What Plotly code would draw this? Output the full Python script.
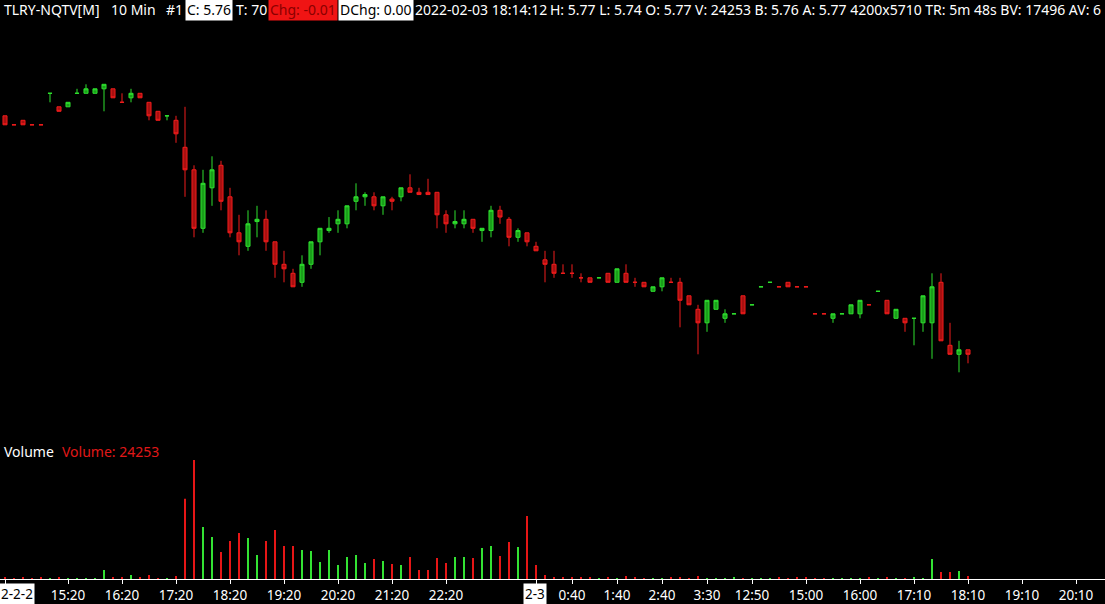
import plotly.graph_objects as go

W, H = 1105, 604
FONT = "Noto Sans"

# ---------------- data (bar index 0 = 2022-02-02 14:10, 10-minute bars) ----------------
opens = [6.29, 6.27, 6.28, 6.27, 6.27, 6.34, 6.31, 6.31, 6.34, 6.34,
         6.34, 6.35, 6.35, 6.32, 6.33, 6.34, 6.32, 6.30, 6.29, 6.28,
         6.22, 6.17, 6.04, 6.13, 6.18, 6.11, 6.03, 6.00, 6.055, 6.06,
         6.01, 5.96, 5.94, 5.92, 5.96, 6.01, 6.035, 6.05, 6.05, 6.10,
         6.11, 6.11, 6.09, 6.105, 6.11, 6.13, 6.12, 6.12, 6.12, 6.07,
         6.05, 6.05, 6.06, 6.035, 6.035, 6.08, 6.06, 6.02, 6.03, 6.00,
         5.97, 5.96, 5.94, 5.94, 5.93, 5.93, 5.93, 5.94, 5.92, 5.94,
         5.92, 5.92, 5.90, 5.91, 5.92, 5.92, 5.89, 5.86, 5.83, 5.86,
         5.84, 5.85, 5.89, 5.87, 5.91, 5.92, 5.91, 5.92, 5.91, 5.91,
         5.85, 5.85, 5.84, 5.85, 5.85, 5.85, 5.87, 5.90, 5.88, 5.84,
         5.84, 5.84, 5.83, 5.83, 5.92, 5.78, 5.76, 5.77]
highs = [6.29, 6.27, 6.28, 6.27, 6.27, 6.34, 6.31, 6.32, 6.35, 6.36,
         6.35, 6.36, 6.35, 6.34, 6.35, 6.34, 6.32, 6.30, 6.29, 6.29,
         6.31, 6.18, 6.17, 6.20, 6.19, 6.13, 6.07, 6.08, 6.09, 6.08,
         6.01, 5.99, 5.95, 5.98, 6.01, 6.04, 6.065, 6.08, 6.09, 6.14,
         6.12, 6.12, 6.11, 6.11, 6.13, 6.16, 6.13, 6.15, 6.12, 6.08,
         6.08, 6.08, 6.06, 6.04, 6.09, 6.09, 6.065, 6.04, 6.03, 6.01,
         5.99, 5.99, 5.96, 5.96, 5.94, 5.93, 5.93, 5.94, 5.95, 5.96,
         5.93, 5.92, 5.91, 5.93, 5.93, 5.93, 5.89, 5.87, 5.88, 5.88,
         5.86, 5.85, 5.89, 5.87, 5.91, 5.92, 5.91, 5.92, 5.91, 5.91,
         5.85, 5.85, 5.85, 5.85, 5.87, 5.88, 5.87, 5.90, 5.88, 5.86,
         5.84, 5.84, 5.89, 5.94, 5.94, 5.83, 5.79, 5.77]
lows = [6.27, 6.27, 6.27, 6.27, 6.27, 6.32, 6.30, 6.31, 6.34, 6.34,
        6.34, 6.30, 6.33, 6.32, 6.32, 6.33, 6.28, 6.28, 6.28, 6.23,
        6.11, 6.02, 6.03, 6.09, 6.08, 6.02, 5.98, 5.99, 6.02, 5.99,
        5.93, 5.92, 5.91, 5.91, 5.95, 5.98, 6.03, 6.03, 6.04, 6.08,
        6.09, 6.08, 6.07, 6.08, 6.10, 6.12, 6.115, 6.115, 6.04, 6.03,
        6.04, 6.04, 6.03, 6.01, 6.02, 6.05, 6.00, 6.01, 6.00, 5.99,
        5.92, 5.93, 5.94, 5.93, 5.92, 5.92, 5.93, 5.92, 5.92, 5.92,
        5.91, 5.91, 5.90, 5.90, 5.92, 5.82, 5.87, 5.76, 5.81, 5.86,
        5.83, 5.85, 5.85, 5.87, 5.91, 5.92, 5.91, 5.91, 5.91, 5.91,
        5.85, 5.85, 5.83, 5.85, 5.85, 5.84, 5.87, 5.90, 5.85, 5.84,
        5.81, 5.78, 5.81, 5.75, 5.79, 5.76, 5.72, 5.74]
closes = [6.27, 6.27, 6.27, 6.27, 6.27, 6.34, 6.30, 6.32, 6.34, 6.35,
          6.35, 6.36, 6.33, 6.32, 6.34, 6.33, 6.29, 6.28, 6.29, 6.25,
          6.17, 6.04, 6.14, 6.17, 6.10, 6.03, 6.01, 6.05, 6.06, 6.01,
          5.96, 5.95, 5.91, 5.96, 6.01, 6.04, 6.04, 6.06, 6.09, 6.11,
          6.115, 6.09, 6.11, 6.10, 6.13, 6.12, 6.115, 6.115, 6.07, 6.05,
          6.055, 6.06, 6.04, 6.04, 6.08, 6.065, 6.02, 6.035, 6.01, 5.99,
          5.96, 5.94, 5.94, 5.94, 5.93, 5.92, 5.93, 5.92, 5.95, 5.92,
          5.92, 5.91, 5.91, 5.93, 5.92, 5.88, 5.87, 5.83, 5.88, 5.88,
          5.85, 5.85, 5.85, 5.87, 5.91, 5.92, 5.91, 5.91, 5.91, 5.91,
          5.85, 5.85, 5.85, 5.85, 5.87, 5.88, 5.87, 5.90, 5.85, 5.86,
          5.83, 5.84, 5.89, 5.91, 5.79, 5.76, 5.77, 5.76]
volumes = [8100, 7900, 8300, 7700, 8200, 6100, 8400, 5900, 6200, 6000,
           6300, 72400, 16200, 15800, 32500, 16100, 31800, 6400, 5800, 24600,
           641000, 952300, 416800, 335200, 216400, 304100, 368500, 327900, 192300, 304600,
           392100, 263800, 264500, 232400, 224100, 136200, 231900, 112600, 176300, 191800,
           128400, 160200, 143900, 120300, 112500, 176100, 72300, 71800, 168400, 128200,
           176500, 175900, 168300, 248100, 263900, 184200, 296300, 255800, 504100, 112300,
           32100, 16300, 15900, 16200, 15800, 8100, 6200, 16400, 5800, 24300,
           8200, 7800, 6100, 5900, 8300, 16100, 7900, 24500, 6000, 6300,
           5900, 8100, 7800, 6200, 5800, 6100, 8200, 7900, 8100, 8300,
           7700, 8000, 6100, 5900, 6200, 6000, 8100, 7900, 8200, 8000,
           7800, 16200, 5900, 160400, 56300, 55800, 64200, 24253]
bar_idx = list(range(len(closes)))

tick_idx = [0, 7, 13, 19, 25, 31, 37, 43, 49, 59, 63, 68, 73, 78, 83,
            89, 95, 101, 107, 113, 119]
tick_text = ["", "15:20", "16:20", "17:20", "18:20", "19:20", "20:20", "21:20",
             "22:20", "", "0:40", "1:40", "2:40", "3:30", "12:50",
             "15:00", "16:00", "17:10", "18:10", "19:10", "20:10"]
date_labels = ["2-2-2", "2-3"]

# ---------------- colours ----------------
UP_LINE, UP_FILL = "#2fe02f", "#1a9e1a"
DN_LINE, DN_FILL = "#f01c1c", "#a81010"
UP_VOL, DN_VOL = "#33e233", "#e61616"

# candle direction (same rule as plotly: doji compares with previous close)
dirs = []
prev_c, inc = None, True
for o, c in zip(opens, closes):
    if c != o:
        inc = c > o
    elif prev_c is not None and c != prev_c:
        inc = c > prev_c
    dirs.append(inc)
    prev_c = c
vol_colors = [UP_VOL if d else DN_VOL for d in dirs]

fig = go.Figure()
fig.add_trace(go.Candlestick(
    x=bar_idx, open=opens, high=highs, low=lows, close=closes,
    xaxis="x", yaxis="y",
    increasing=dict(line=dict(color=UP_LINE, width=1), fillcolor=UP_FILL),
    decreasing=dict(line=dict(color=DN_LINE, width=1), fillcolor=DN_FILL),
    whiskerwidth=0, showlegend=False, name="TLRY",
))
fig.add_trace(go.Bar(
    x=bar_idx, y=volumes, xaxis="x", yaxis="y2",
    marker=dict(color=vol_colors, line=dict(width=0)),
    width=0.22, showlegend=False, name="Volume",
))

# pixel geometry
def py(p):
    return 1 - p / H

PX_PER_BAR = 9.0
X0 = 5.0  # pixel of bar 0
x_range = [(0 - X0) / PX_PER_BAR, (W - X0) / PX_PER_BAR]

price_top_px, price_bot_px = 25, 440
PX_PER_DOLLAR = 450.0
REF_P, REF_Y = 5.76, 354.3
p_top = REF_P + (REF_Y - price_top_px) / PX_PER_DOLLAR
p_bot = REF_P - (price_bot_px - REF_Y) / PX_PER_DOLLAR

vol_top_px, vol_bot_px = 455, 579
VOL_PER_PX = 8000
v_top = (vol_bot_px - vol_top_px) * VOL_PER_PX

fig.update_layout(
    width=W, height=H, template="none",
    paper_bgcolor="black", plot_bgcolor="black",
    margin=dict(l=0, r=0, t=0, b=0),
    boxgap=0.55, boxgroupgap=0,
    showlegend=False,
    xaxis=dict(domain=[0, 1], range=x_range, anchor="y2", automargin=False,
               rangeslider=dict(visible=False), showgrid=False, zeroline=False,
               showline=True, linecolor="white", linewidth=1,
               ticks="outside", ticklen=4, tickcolor="white", tickwidth=1,
               tickmode="array", tickvals=tick_idx, ticktext=tick_text,
               tickfont=dict(family=FONT, size=13.5, color="white")),
    yaxis=dict(domain=[py(price_bot_px), py(price_top_px)], range=[p_bot, p_top],
               visible=False, automargin=False),
    yaxis2=dict(domain=[py(vol_bot_px), py(vol_top_px)], range=[0, v_top],
                visible=False, automargin=False),
)

def ann(text, x_px, y_px, color="white", bg=None, size=14):
    d = dict(text=text, x=x_px / W, y=py(y_px), xref="paper", yref="paper",
             xanchor="left", yanchor="middle", showarrow=False,
             font=dict(family=FONT, size=size, color=color))
    if bg:
        d.update(bgcolor=bg, borderpad=1)
    return d

anns = [
    ann("TLRY-NQTV[M]", 2, 10),
    ann("10 Min", 109, 10),
    ann("#1", 164, 10),
    ann("C: 5.76", 185, 10, color="black", bg="white"),
    ann("T: 70", 234, 10),
    ann("Chg: -0.01", 268, 10, color="#8a0000", bg="#f01414"),
    ann("DChg: 0.00", 338, 10, color="black", bg="white"),
    ann("2022-02-03 18:14:12", 413, 10),
    ann("H: 5.77 L: 5.74 O: 5.77 V: 24253 B: 5.76 A: 5.77 4200x5710 "
        "TR: 5m 48s BV: 17496 AV: 6", 548, 10),
    ann("Volume", 2, 451),
    ann("Volume: 24253", 60, 451, color="#e01818"),
    ann(date_labels[0], -1, 594, color="black", bg="white", size=13.5),
    ann(date_labels[1], 523, 594, color="black", bg="white", size=13.5),
]
fig.update_layout(annotations=anns)

fig.write_html("out.html", config={"displayModeBar": False},
               post_script="document.body.style.margin='0';")
